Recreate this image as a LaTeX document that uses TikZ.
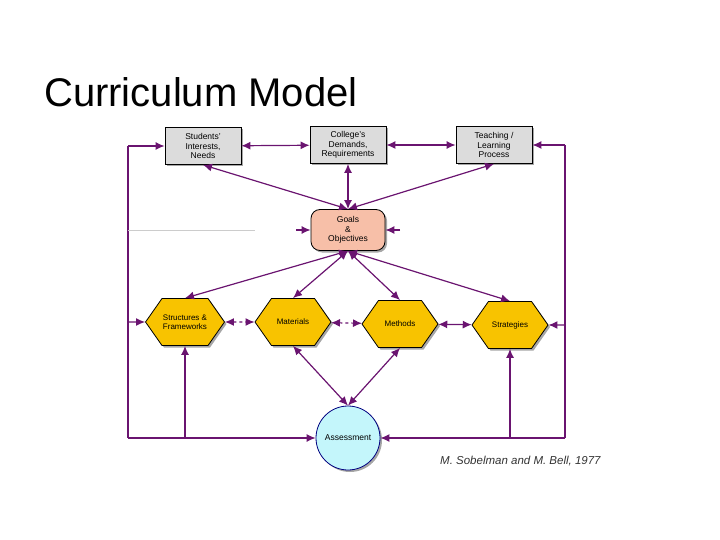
\documentclass[tikz,border=0pt]{standalone}
\usepackage{fontspec}
\setmainfont{Liberation Sans}
\usetikzlibrary{shapes.symbols,shadows,arrows.meta}
\definecolor{pur}{HTML}{6A1470}
\definecolor{boxg}{HTML}{DCDCDC}
\definecolor{goalc}{HTML}{F7BFA8}
\definecolor{hexc}{HTML}{F8C300}
\definecolor{assc}{HTML}{C4F6FB}
\begin{document}
\begin{tikzpicture}[x=1pt,y=-1pt,
  sh/.style={drop shadow={shadow xshift=2pt,shadow yshift=-2pt,fill=gray!70,opacity=1}},
  gbox/.style={draw,thick,fill=boxg,minimum width=76pt,minimum height=37pt,align=center,font=\fontsize{8.5}{9.5}\selectfont,inner sep=1pt,sh},
  hexn/.style={shape=signal,signal to=east and west,signal pointer angle=110,draw,thick,fill=hexc,minimum width=76pt,minimum height=47pt,align=center,font=\fontsize{8}{9}\selectfont,inner sep=1pt,sh},
  con/.style={pur,line width=1.2pt,{Latex[length=9pt,width=8pt]}-{Latex[length=9pt,width=8pt]}},
  one/.style={pur,line width=1.2pt,-{Latex[length=9pt,width=8pt]}},
  lp/.style={pur,line width=1.2pt}]
\useasboundingbox (0,0) rectangle (720,540);
\node[anchor=base west,font=\fontsize{40}{46}\selectfont,inner sep=0pt] (title) at (44,107) {Curriculum Model};
\node[gbox] (stu) at (203,146) {Students'\\Interests,\\Needs};
\node[gbox] (col) at (348,145) {College's\\Demands,\\Requirements};
\node[gbox] (tea) at (494,145) {Teaching /\\Learning\\Process};
\node[draw,thick,fill=goalc,rounded corners=9pt,minimum width=74pt,minimum height=41pt,align=center,font=\fontsize{8.5}{9.5}\selectfont,sh] (goal) at (348,230) {Goals\\\&\\Objectives};
\node[hexn] (str) at (185,322) {Structures \&\\Frameworks};
\node[hexn] (mat) at (293,322) {Materials};
\node[hexn] (met) at (400,324) {Methods};
\node[hexn] (stg) at (510,325) {Strategies};
\node[circle,draw=blue!50!black,thick,fill=assc,minimum size=64pt,font=\fontsize{8.5}{9.5}\selectfont,sh] (ass) at (348,438) {Assessment};
\node[anchor=west,font=\itshape\fontsize{11.5}{13}\selectfont,text=black!80,inner sep=0pt] (cite) at (440,461) {M. Sobelman and M. Bell, 1977};
% top row
\draw[con] (stu) -- (col);
\draw[con] (col) -- (tea);
\draw[con] (stu.south) -- (goal.north);
\draw[con] (col) -- (goal);
\draw[con] (tea.south) -- (goal.north);
% goals to hexagons
\draw[con] (goal.south) -- (str.north);
\draw[con] (goal.south) -- (mat.north);
\draw[con] (goal.south) -- (met.north);
\draw[con] (goal.south) -- (stg.north);
\draw[con,dashed] (str) -- (mat);
\draw[con,dashed] (mat) -- (met);
\draw[con] (met) -- (stg);
\draw[con] (mat.south) -- (ass.north);
\draw[con] (met.south) -- (ass.north);
% loops
\coordinate (lt) at (128,146);
\coordinate (lb) at (128,438);
\coordinate (rt) at (565,145);
\coordinate (rb) at (565,438);
\draw[lp] (lb) -- (lt);
\draw[one] (lt) -- (stu);
\draw[one] (lb) -- (ass);
\draw[one] (128,322) -- (str);
\draw[one] (str.south |- lb) -- (str.south);
\draw[lp] (rb) -- (rt);
\draw[one] (rt) -- (tea);
\draw[one] (rb) -- (ass);
\draw[one] (565,325) -- (stg);
\draw[one] (stg.south |- rb) -- (stg.south);
\draw[gray!40,thick] (128,230) -- (255,230);
\draw[one] (296,230) -- (goal);
\draw[one] (400,230) -- (goal);
\end{tikzpicture}
\end{document}
